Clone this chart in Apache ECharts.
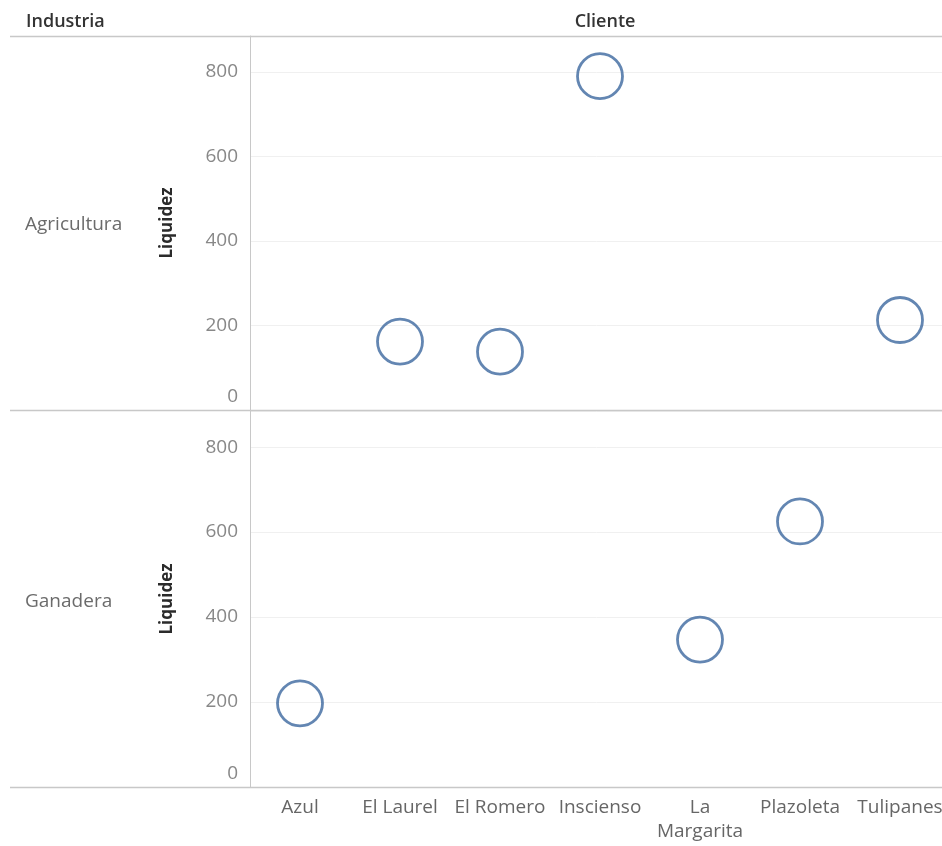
<!DOCTYPE html>
<html>
<head>
<meta charset="utf-8">
<script src="https://cdn.jsdelivr.net/npm/echarts@6/dist/echarts.min.js"></script>
<style>
  html, body { margin: 0; padding: 0; background: #fff; }
  #chart { width: 942px; height: 846px; }
</style>
</head>
<body>
<div id="chart"></div>
<script>
// Clients along the column axis
const clientes = ['Azul', 'El Laurel', 'El Romero', 'Inscienso', 'La Margarita', 'Plazoleta', 'Tulipanes'];

// Industry rows
const industrias = ['Agricultura', 'Ganadera'];

// Liquidity per client, Agricultura row
const agriClientes = ['El Laurel', 'El Romero', 'Inscienso', 'Tulipanes'];
const agriLiquidez = [162, 138, 790, 213];

// Liquidity per client, Ganadera row
const ganaClientes = ['Azul', 'La Margarita', 'Plazoleta'];
const ganaLiquidez = [197, 347, 625];

// Value axis ticks
const yTicks = [0, 200, 400, 600, 800];
const yMax = 885;

const FONT = 'Open Sans';
const BLUE = '#3c689f';
const RULE = '#c8c8c8';

function yAxisFor(gridIndex) {
  return {
    type: 'value',
    gridIndex: gridIndex,
    min: yTicks[0],
    max: yMax,
    interval: yTicks[1] - yTicks[0],
    name: 'Liquidez',
    nameLocation: 'middle',
    nameRotate: 90,
    nameGap: 74,
    nameTextStyle: { fontFamily: FONT, fontWeight: 'bold', fontSize: 17, color: '#2b2b2b' },
    axisLine: { show: true, lineStyle: { color: RULE, width: 1 } },
    axisTick: { show: false },
    axisLabel: {
      fontFamily: FONT,
      fontSize: 19,
      color: '#888',
      margin: 12,
      formatter: function (v) {
        if (yTicks.indexOf(v) < 0) return '';
        return v === 0 ? '{z|0}' : String(v);
      },
      rich: { z: { fontFamily: FONT, fontSize: 19, color: '#888', padding: [0, 0, 26, 0] } }
    },
    splitLine: { show: true, lineStyle: { color: '#f0f0f0', width: 1 } }
  };
}

function xAxisFor(gridIndex, showLabels) {
  return {
    type: 'category',
    gridIndex: gridIndex,
    data: clientes,
    axisLine: { show: false },
    axisTick: { show: false },
    splitLine: { show: false },
    axisLabel: {
      show: showLabels,
      interval: 0,
      fontFamily: FONT,
      fontSize: 19,
      color: '#666',
      lineHeight: 24,
      margin: 9,
      formatter: function (name) {
        return name.length > 10 ? name.replace(' ', '\n') : name;
      }
    }
  };
}

function pairs(names, values) {
  return names.map(function (n, i) { return [n, values[i]]; });
}

const chart = echarts.init(document.getElementById('chart'), null, { renderer: 'canvas' });

const headerStyle = { fontFamily: FONT, fontSize: 18, fontWeight: 600, color: '#333' };
const rowStyle = { fontFamily: FONT, fontSize: 19, fontWeight: 'normal', color: '#6b6b6b' };

chart.setOption({
  animation: false,
  backgroundColor: '#fff',
  title: [
    { text: 'Industria', left: 21, top: 8, textStyle: headerStyle },
    { text: 'Cliente', left: 600, top: 8, textAlign: 'center', textStyle: headerStyle },
    { text: industrias[0], left: 20, top: 210, textStyle: rowStyle },
    { text: industrias[1], left: 20, top: 587, textStyle: rowStyle }
  ],
  grid: [
    { left: 250, top: 36, width: 700, height: 374, outerBoundsMode: 'none' },
    { left: 250, top: 411, width: 700, height: 376, outerBoundsMode: 'none' }
  ],
  xAxis: [xAxisFor(0, false), xAxisFor(1, true)],
  yAxis: [yAxisFor(0), yAxisFor(1)],
  graphic: [
    { type: 'line', z: 10, shape: { x1: 10, y1: 36.5, x2: 942, y2: 36.5 }, style: { stroke: RULE, lineWidth: 1.5 } },
    { type: 'line', z: 10, shape: { x1: 10, y1: 410.5, x2: 942, y2: 410.5 }, style: { stroke: RULE, lineWidth: 1.5 } },
    { type: 'line', z: 10, shape: { x1: 10, y1: 787.5, x2: 942, y2: 787.5 }, style: { stroke: RULE, lineWidth: 1.5 } }
  ],
  series: [
    {
      name: industrias[0],
      type: 'scatter',
      xAxisIndex: 0,
      yAxisIndex: 0,
      symbol: 'circle',
      symbolSize: 45,
      itemStyle: { color: 'rgba(255,255,255,0)', borderColor: BLUE, borderWidth: 2.8 },
      data: pairs(agriClientes, agriLiquidez)
    },
    {
      name: industrias[1],
      type: 'scatter',
      xAxisIndex: 1,
      yAxisIndex: 1,
      symbol: 'circle',
      symbolSize: 45,
      itemStyle: { color: 'rgba(255,255,255,0)', borderColor: BLUE, borderWidth: 2.8 },
      data: pairs(ganaClientes, ganaLiquidez)
    }
  ]
});
</script>
</body>
</html>
